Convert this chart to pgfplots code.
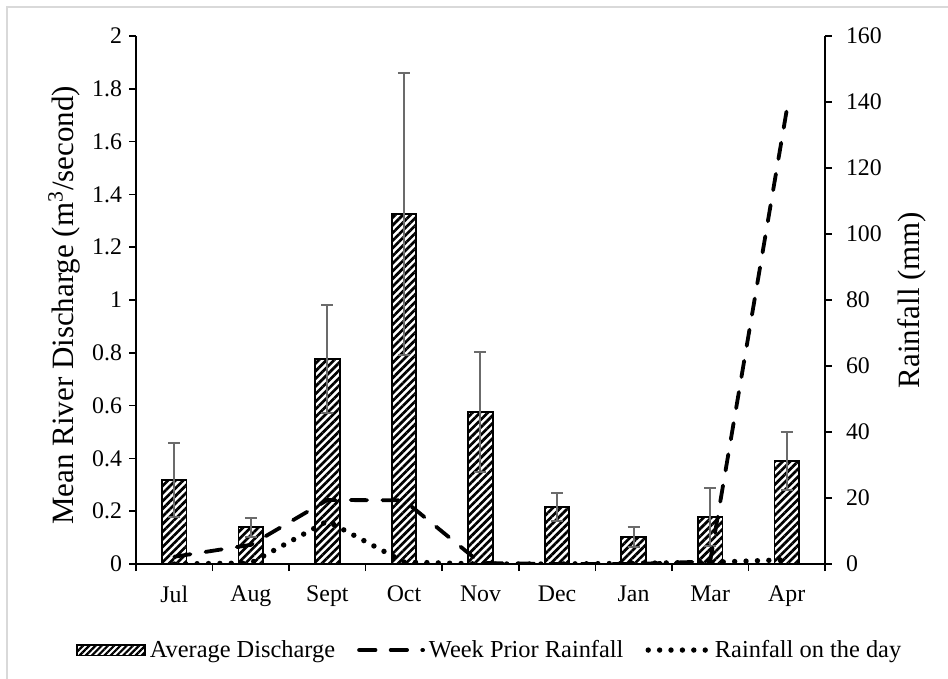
\documentclass[border=0pt]{standalone}
\usepackage{pgfplots}
\usepackage{pgfplotstable}
\pgfplotsset{compat=1.18}
\usepackage{fontspec}
\setmainfont{Liberation Serif}
\usetikzlibrary{patterns.meta}

% Mean river discharge per sampling month, with its error
\pgfplotstableread{
x  mean   err
0  0.318  0.140
1  0.139  0.035
2  0.776  0.204
3  1.325  0.535
4  0.577  0.227
5  0.215  0.054
6  0.103  0.038
7  0.177  0.110
8  0.389  0.110
}\discharge

% Rainfall (mm): week before sampling, and on the sampling day
\pgfplotstableread{
x  week   day
0  2.2    0.0
1  5.8    0.3
2  19.4   13.0
3  19.3   0.6
4  0.3    0.0
5  0.0    0.0
6  0.0    0.2
7  0.8    0.5
8  137.5  1.3
}\rain

\tikzset{
  hatch/.style={pattern={Lines[angle=45,distance=2.7pt,line width=1.35pt]}, pattern color=black},
  weekline/.style={black, line width=1.9pt, dash pattern=on 8.2pt off 7.6pt, line cap=round},
  dayline/.style={black, line width=2.7pt, dash pattern=on 0pt off 5.7pt, line cap=round},
}
\newcommand\tickfont{\fontsize{11.9}{13}\selectfont}
\newcommand\legfont{\fontsize{12.2}{14}\selectfont}
\newcommand\titlefont{\fontsize{15.5}{17}\selectfont}

\pgfplotsset{
  common/.style={
    at={(68pt,-282pt)}, anchor=south west,
    scale only axis, width=344.5pt, height=264pt,
    xmin=-0.5, xmax=8.5,
    tick align=outside, major tick length=3.5pt,
    axis line style={-, line width=0.75pt},
    tick style={black, line width=0.75pt},
    tick label style={font=\tickfont},
    /pgf/number format/assume math mode=true,
  },
}

\begin{document}
\begin{tikzpicture}
\useasboundingbox (0pt,0pt) rectangle (474pt,-339.5pt);
\draw[line width=0.8pt, black!15] (3.5pt,-339.5pt) -- (3.5pt,-3.5pt) -- (474pt,-3.5pt);

\begin{axis}[
  common,
  ymin=0, ymax=2,
  axis x line*=bottom, axis y line*=left,
  xtick={-0.5,0.5,1.5,2.5,3.5,4.5,5.5,6.5,7.5,8.5},
  x tick label as interval,
  xticklabels={Jul,Aug,Sept,Oct,Nov,Dec,Jan,Mar,Apr},
  x tick label style={yshift=-4pt},
  ytick={0,0.2,0.4,0.6,0.8,1,1.2,1.4,1.6,1.8,2},
  ylabel={Mean River Discharge (m\textsuperscript{3}/second)},
  ylabel style={font=\titlefont, at={(axis description cs:-0.1045,0.49)}, anchor=center},
]
\addplot[ybar, bar width=12.3pt, draw=black, line width=0.9pt, hatch,
  error bars/.cd, y dir=both, y explicit,
  error bar style={black!58, line width=1pt},
  error mark options={black!58, line width=1pt, mark size=3pt, rotate=90}]
  table[x=x, y=mean, y error=err] {\discharge};
\end{axis}

\begin{axis}[
  common,
  ymin=0, ymax=160,
  axis x line=none, axis y line*=right,
  ytick={0,20,...,160},
  yticklabel style={xshift=3.5pt},
  ylabel={Rainfall (mm)},
  ylabel style={font=\titlefont, at={(axis description cs:1.126,0.5)}, anchor=center},
  legend columns=3,
  legend style={draw=none, font=\legfont, at={(0.515,-0.163)}, anchor=center,
    /tikz/every even column/.append style={column sep=9pt}},
]
\addlegendimage{legend image code/.code={
  \draw[pattern={Lines[angle=45,distance=2.2pt,line width=1.1pt]}, draw=black, line width=0.7pt] (0pt,-2.6pt) rectangle (34pt,2.6pt);}}
\addlegendentry{Average Discharge}
\addplot[weekline, legend image code/.code={\draw[weekline] (0pt,0pt) -- (32pt,0pt);}]
  table[x=x, y=week] {\rain};
\addlegendentry{Week Prior Rainfall}
\addplot[dayline, legend image code/.code={\draw[dayline] (0pt,0pt) -- (30pt,0pt);}]
  table[x=x, y=day] {\rain};
\addlegendentry{Rainfall on the day}
\end{axis}
\end{tikzpicture}
\end{document}
